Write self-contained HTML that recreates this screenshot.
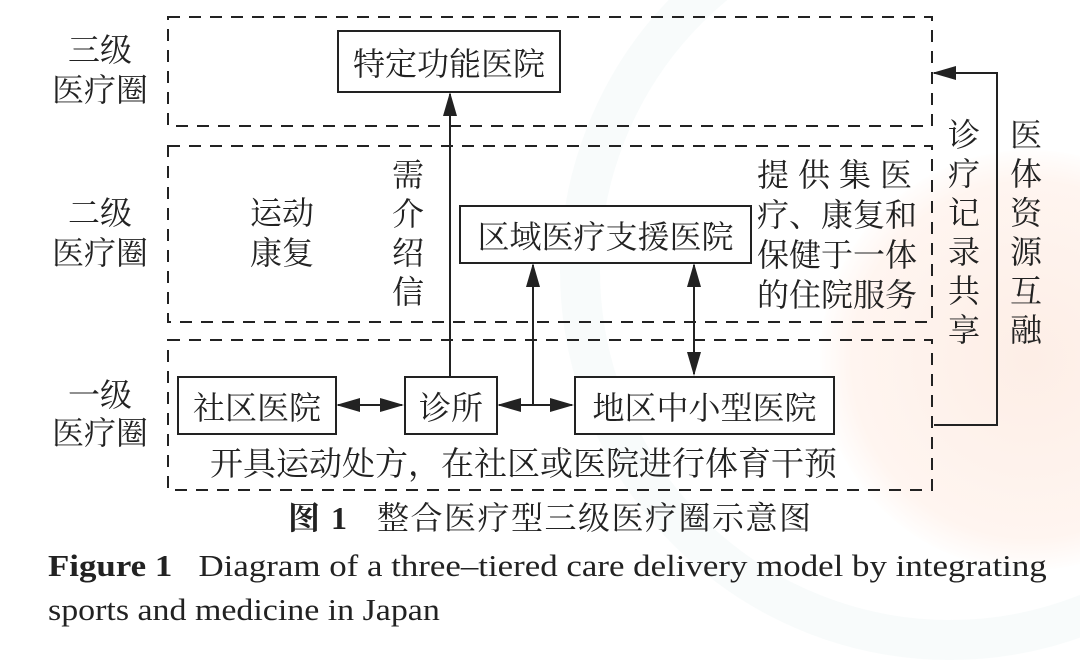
<!DOCTYPE html>
<html><head><meta charset="utf-8"><style>
body{margin:0;width:1080px;height:649px;background:#fff;position:relative;overflow:hidden;font-family:"Liberation Serif","Noto Serif CJK SC",serif;color:#222}
.t{position:absolute;font-size:32px;line-height:40px;white-space:nowrap}
.v{position:absolute;font-size:32px;line-height:39px;width:36px;text-align:center}
.box{position:absolute;border:2px solid #222;box-sizing:border-box;font-size:32px;display:flex;align-items:center;justify-content:center;background:#fff}
</style></head><body>
<div style="position:absolute;left:820px;top:150px;width:420px;height:420px;border-radius:50%;background:radial-gradient(circle,#fdeee6 0%,#fff5f0 60%,rgba(255,255,255,0) 72%)"></div>
<div style="position:absolute;left:560px;top:-120px;width:700px;height:700px;border-radius:50%;border:40px solid rgba(200,225,225,0.12)"></div>
<svg width="1080" height="649" style="position:absolute;left:0;top:0">
<defs>
<marker id="b" markerWidth="24" markerHeight="14" refX="22" refY="7" orient="auto-start-reverse" markerUnits="userSpaceOnUse" viewBox="0 0 24 14"><path d="M0,0 L24,7 L0,14z" fill="#222"/></marker></defs>
<g fill="none" stroke="#222" stroke-width="2" stroke-dasharray="12,9">
<rect x="168" y="17" width="764" height="109"/>
<rect x="168" y="146" width="764" height="176"/>
<rect x="168" y="340" width="764" height="150"/>
</g>
<g stroke="#222" stroke-width="2" fill="none">
<line x1="450" y1="376" x2="450" y2="94" marker-end="url(#b)"/>
<line x1="533" y1="405" x2="533" y2="265" marker-end="url(#b)"/>
<line x1="694" y1="374" x2="694" y2="265" marker-end="url(#b)" marker-start="url(#b)"/>
<line x1="338" y1="405" x2="402" y2="405" marker-end="url(#b)" marker-start="url(#b)"/>
<line x1="499" y1="405" x2="572" y2="405" marker-end="url(#b)" marker-start="url(#b)"/>
<polyline points="934,425 997,425 997,73 934,73" marker-end="url(#b)"/>
</g>
</svg>
<div class="box" style="left:337px;top:30px;width:224px;height:63px">特定功能医院</div>
<div class="box" style="left:459px;top:205px;width:293px;height:59px">区域医疗支援医院</div>
<div class="box" style="left:177px;top:376px;width:160px;height:59px">社区医院</div>
<div class="box" style="left:404px;top:376px;width:94px;height:59px">诊所</div>
<div class="box" style="left:574px;top:376px;width:261px;height:59px">地区中小型医院</div>
<div class="t" style="left:68px;top:30px">三级</div>
<div class="t" style="left:52px;top:70px">医疗圈</div>
<div class="t" style="left:68px;top:193px">二级</div>
<div class="t" style="left:52px;top:233px">医疗圈</div>
<div class="t" style="left:68px;top:375px">一级</div>
<div class="t" style="left:52px;top:413px">医疗圈</div>
<div class="t" style="left:250px;top:193px">运动</div>
<div class="t" style="left:250px;top:233px">康复</div>
<div class="v" style="left:390px;top:156px">需<br>介<br>绍<br>信</div>
<div class="t" style="left:757px;top:155px;letter-spacing:9px">提供集医</div>
<div class="t" style="left:757px;top:195px">疗、康复和</div>
<div class="t" style="left:757px;top:235px">保健于一体</div>
<div class="t" style="left:757px;top:275px">的住院服务</div>
<div class="v" style="left:946px;top:116px">诊<br>疗<br>记<br>录<br>共<br>享</div>
<div class="v" style="left:1008px;top:116px">医<br>体<br>资<br>源<br>互<br>融</div>
<div class="t" style="left:210px;top:445px;font-size:33px">开具运动处方，在社区或医院进行体育干预</div>
<div class="t" style="left:288px;top:498px;font-size:32px;letter-spacing:1.5px"><b>图 1</b>&nbsp;&nbsp;&nbsp;整合医疗型三级医疗圈示意图</div>
<div class="t" style="left:48px;top:546px;font-size:31px;transform:scaleX(1.125);transform-origin:0 0"><b>Figure 1</b>&nbsp;&nbsp;&nbsp;Diagram of a three–tiered care delivery model by integrating</div>
<div class="t" style="left:48px;top:590px;font-size:31px;transform:scaleX(1.094);transform-origin:0 0">sports and medicine in Japan</div>
</body></html>
